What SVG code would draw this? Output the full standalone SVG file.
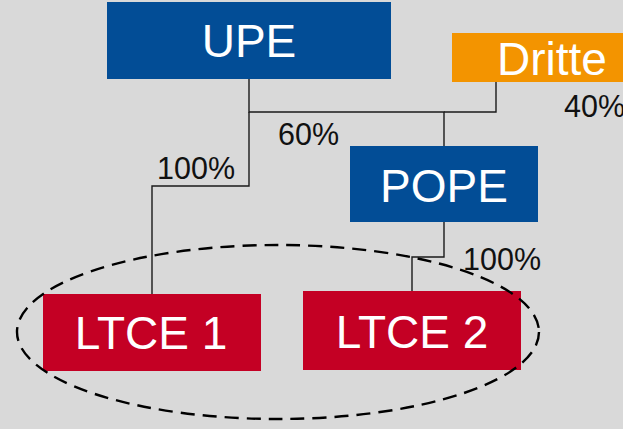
<svg xmlns="http://www.w3.org/2000/svg" width="623" height="429" viewBox="0 0 623 429">
  <style>
    .box-label { font-family: "Liberation Sans", Arial, sans-serif; font-size: 46px; fill: #ffffff; text-anchor: middle; }
    .pct { font-family: "Liberation Sans", Arial, sans-serif; font-size: 30.5px; fill: #111111; }
    .blue { fill: #024D96; }
    .orange { fill: #F39400; }
    .red { fill: #C40024; }
    .link { fill: none; stroke: #1a1a1a; stroke-width: 1.4; }
  </style>
  <rect x="0" y="0" width="623" height="429" fill="#D9D9D9"/>

  <!-- ownership lines -->
  <g id="connectors">
    <polyline class="link" points="249,79 249,112 444,112 444,146"/>
    <polyline class="link" points="496,82 496,112 444,112"/>
    <polyline class="link" points="249,112 249,186 152,186 152,294"/>
    <polyline class="link" points="444,222 444,257 412,257 412,291"/>
  </g>

  <!-- percentage labels -->
  <g id="labels">
    <text class="pct" x="278" y="145">60%</text>
    <text class="pct" x="564" y="117">40%</text>
    <text class="pct" x="157" y="179">100%</text>
    <text class="pct" x="463" y="270">100%</text>
  </g>

  <g id="upe">
    <rect class="blue" x="107" y="2" width="284" height="77"/>
    <text class="box-label" x="249" y="57">UPE</text>
  </g>

  <g id="dritte">
    <rect class="orange" x="452" y="33" width="171" height="49"/>
    <text class="box-label" x="552" y="75">Dritte</text>
  </g>

  <g id="pope">
    <rect class="blue" x="350" y="146" width="188" height="76"/>
    <text class="box-label" x="444" y="202">POPE</text>
  </g>

  <g id="ltce1">
    <rect class="red" x="43" y="294" width="218" height="77"/>
    <text class="box-label" x="151" y="349">LTCE 1</text>
  </g>

  <g id="ltce2">
    <rect class="red" x="303" y="291" width="218" height="79"/>
    <text class="box-label" x="412" y="348">LTCE 2</text>
  </g>

  <!-- grouping of the two LTCE entities -->
  <g id="ltce-group">
    <ellipse cx="278" cy="332" rx="261" ry="87" fill="none" stroke="#000000" stroke-width="2.4" stroke-dasharray="14,8"/>
  </g>
</svg>
